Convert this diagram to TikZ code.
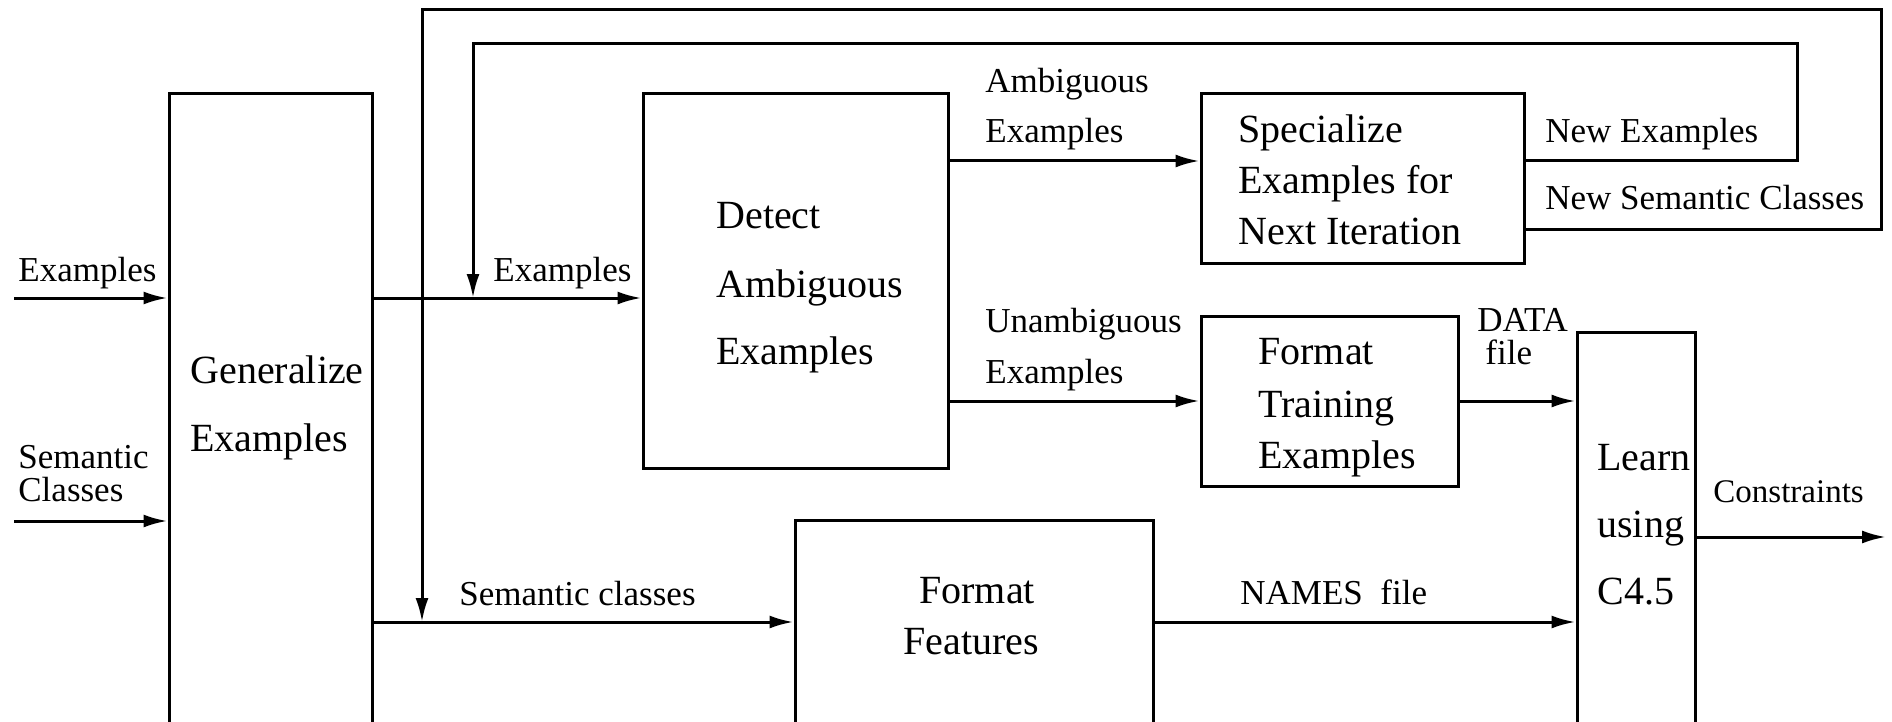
\documentclass[tikz,border=0pt]{standalone}
\usepackage{fontspec}
\setmainfont{Liberation Serif}
\usetikzlibrary{fit,arrows.meta}

\tikzset{
  wire/.style={line width=1.5pt},
  arr/.style={wire, -{Latex[length=12pt,width=6.5pt]}},
  box/.style={draw, line width=1.5pt, inner sep=0pt, rectangle},
  lbl/.style={font=\fontsize{17.5}{20}\selectfont, inner sep=0pt, anchor=base west},
  btxt/.style={font=\fontsize{20}{24}\selectfont, inner sep=0pt, anchor=base west},
}

\begin{document}
\begin{tikzpicture}[x=0.5pt,y=-0.5pt]
\useasboundingbox (0,0) rectangle (1892,722);
\clip (0,0) rectangle (1892,722);

% process boxes
\node[box, fit={(169,94) (372,740)}]    (gen)   {};
\node[box, fit={(643,94) (948,468)}]    (det)   {};
\node[box, fit={(1201,94) (1524,263)}]  (spec)  {};
\node[box, fit={(1201,316) (1458,486)}] (ftr)   {};
\node[box, fit={(795,520) (1153,740)}]  (ffeat) {};
\node[box, fit={(1577,332) (1695,740)}] (learn) {};

% box texts
\node[btxt] (t1) at (190,383) {Generalize};
\node[btxt] (t2) at (190,451) {Examples};
\node[btxt] (t3) at (716,228) {Detect};
\node[btxt] (t4) at (716,297) {Ambiguous};
\node[btxt] (t5) at (716,364) {Examples};
\node[btxt] (t6) at (1238,143) {Specialize};
\node[btxt] (t7) at (1238,194) {Examples for};
\node[btxt] (t8) at (1238,244) {Next Iteration};
\node[btxt] (t9) at (1258,364) {Format};
\node[btxt] (t10) at (1258,417) {Training};
\node[btxt] (t11) at (1258,468) {Examples};
\node[btxt] (t12) at (919,603) {Format};
\node[btxt] (t13) at (903,654) {Features};
\node[btxt] (t14) at (1597,470) {Learn};
\node[btxt] (t15) at (1597,537) {using};
\node[btxt] (t16) at (1597,604) {C4.5};

% connector levels and free ends
\coordinate (inEx)  at (14,298);
\coordinate (inSem) at (14,521);
\coordinate (ambY)  at (0,161);
\coordinate (unaY)  at (0,401);
\coordinate (scY)   at (0,622);
\coordinate (outC)  at (1886,537);
\coordinate (neY)   at (0,161);
\coordinate (nsY)   at (0,230);
\coordinate (innerTop) at (473,44);
\coordinate (outerTop) at (422,10);
\coordinate (innerR) at (1797,0);
\coordinate (outerR) at (1881,0);

% inputs
\draw[arr] (inEx) -- (inEx -| gen.west);
\draw[arr] (inSem) -- (inSem -| gen.west);

% main flow
\draw[arr] (gen.east |- inEx) -- (det.west |- inEx);
\draw[arr] (gen.east |- scY) -- (ffeat.west |- scY);
\draw[arr] (det.east |- ambY) -- (spec.west |- ambY);
\draw[arr] (det.east |- unaY) -- (ftr.west |- unaY);
\draw[arr] (ftr.east |- unaY) -- (learn.west |- unaY);
\draw[arr] (ffeat.east |- scY) -- (learn.west |- scY);
\draw[arr] (learn.east |- outC) -- (outC);

% feedback loops
\draw[arr] (spec.east |- neY) -- (innerR |- neY) -- (innerR |- innerTop)
           -- (innerTop) -- (innerTop |- inEx);
\draw[arr] (spec.east |- nsY) -- (outerR |- nsY) -- (outerR |- outerTop)
           -- (outerTop) -- (outerTop |- scY);

% connector labels
\node[lbl] (l1) at (18,281) {Examples};
\node[lbl] (l2) at (18,468) {Semantic};
\node[lbl] (l3) at (18,501) {Classes};
\node[lbl] (l4) at (493,281) {Examples};
\node[lbl] (l5) at (459,605) {Semantic classes};
\node[lbl] (l6) at (985,93) {Ambiguous};
\node[lbl] (l7) at (985,143) {Examples};
\node[lbl] (l8) at (985,332) {Unambiguous};
\node[lbl] (l9) at (985,383) {Examples};
\node[lbl] (l10) at (1545,143) {New Examples};
\node[lbl] (l11) at (1545,210) {New Semantic Classes};
\node[lbl] (l12) at (1477,331) {DATA};
\node[lbl] (l13) at (1485,364) {file};
\node[lbl] (l14) at (1240,604) {NAMES\hspace{0.5em}file};
\node[lbl, font=\fontsize{16.5}{20}\selectfont] (l15) at (1713,502) {Constraints};
\end{tikzpicture}
\end{document}
